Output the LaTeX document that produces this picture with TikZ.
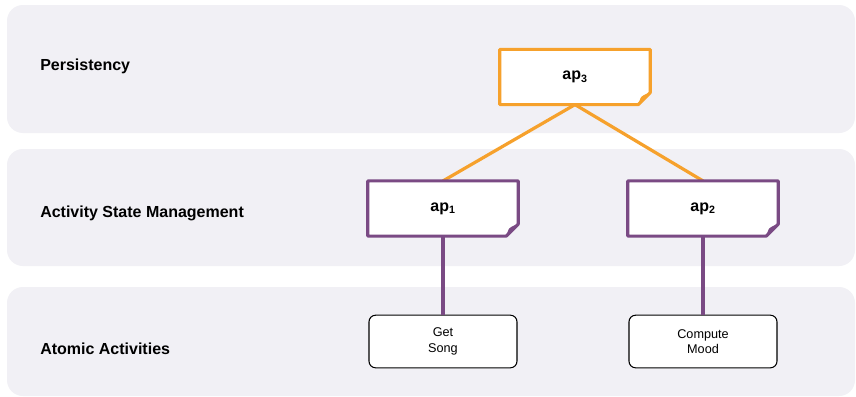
\documentclass[tikz,border=0pt]{standalone}
\usepackage{fontspec}
\setmainfont{Liberation Sans}
\begin{document}
\begin{tikzpicture}[x=0.75pt,y=-0.75pt,
  band/.style={fill=bandgray,draw=none,rounded corners=12pt},
  lanelabel/.style={anchor=west,font=\fontsize{12}{14}\selectfont\bfseries,inner sep=0pt},
  apnode/.style={minimum width=112.5pt,minimum height=41pt,inner sep=0pt},
  aptext/.style={font=\fontsize{12}{14}\selectfont\bfseries,inner sep=0pt},
  actnode/.style={draw=black,line width=0.8pt,fill=white,rounded corners=5pt,minimum width=111pt,minimum height=39.5pt,inner sep=0pt,align=center,font=\fontsize{9.5}{11.5}\selectfont},
  orangeline/.style={draw=aporange,line width=2.4pt},
  purpleline/.style={draw=appurple,line width=2.4pt}
]
\definecolor{bandgray}{HTML}{F1F0F5}
\definecolor{aporange}{HTML}{F6A12C}
\definecolor{appurple}{HTML}{7A4A84}
\useasboundingbox (0,0) rectangle (856,396);
\fill[white] (0,0) rectangle (856,396);
% bands
\path[band] (7,5) rectangle (855,133);
\path[band] (7,149) rectangle (855,266);
\path[band] (7,287) rectangle (855,396);
% labels
\node[lanelabel] (l1) at (40,66.5) {Persistency};
\node[lanelabel] (l2) at (40,213) {Activity State Management};
\node[lanelabel] (l3) at (40,349) {Atomic Activities};
% nodes
\node[apnode] (ap3) at (575,77) {};
\node[apnode] (ap1) at (443,208.5) {};
\node[apnode] (ap2) at (703,208.5) {};
\node[actnode] (get) at (443,341.5) {Get\\Song};
\node[actnode] (mood) at (703,341.5) {Compute\\Mood};
% connectors
\draw[orangeline] (ap3.south) -- (ap1.north);
\draw[orangeline] (ap3.south) -- (ap2.north);
\draw[purpleline] (ap1.south) -- (get.north);
\draw[purpleline] (ap2.south) -- (mood.north);
% dog-ear boxes
\foreach \n/\c in {ap3/aporange,ap1/appurple,ap2/appurple}{
  \draw[line width=2.3pt,draw=\c,fill=white,line join=round]
    (\n.north west) -- (\n.north east) -- ([yshift=9]\n.south east) -- ([xshift=-9]\n.south east) -- (\n.south west) -- cycle;
  \fill[\c] ([yshift=9]\n.south east) -- ([xshift=-9]\n.south east) -- ([xshift=-8,yshift=3]\n.south east) .. controls ([xshift=-7,yshift=6]\n.south east) .. ([xshift=-3,yshift=8]\n.south east) -- cycle;
}
\node[aptext] (t3) at (ap3) {ap$_{\mathbf 3}$};
\node[aptext] (t1) at (ap1) {ap$_{\mathbf 1}$};
\node[aptext] (t2) at (ap2) {ap$_{\mathbf 2}$};
\end{tikzpicture}
\end{document}
